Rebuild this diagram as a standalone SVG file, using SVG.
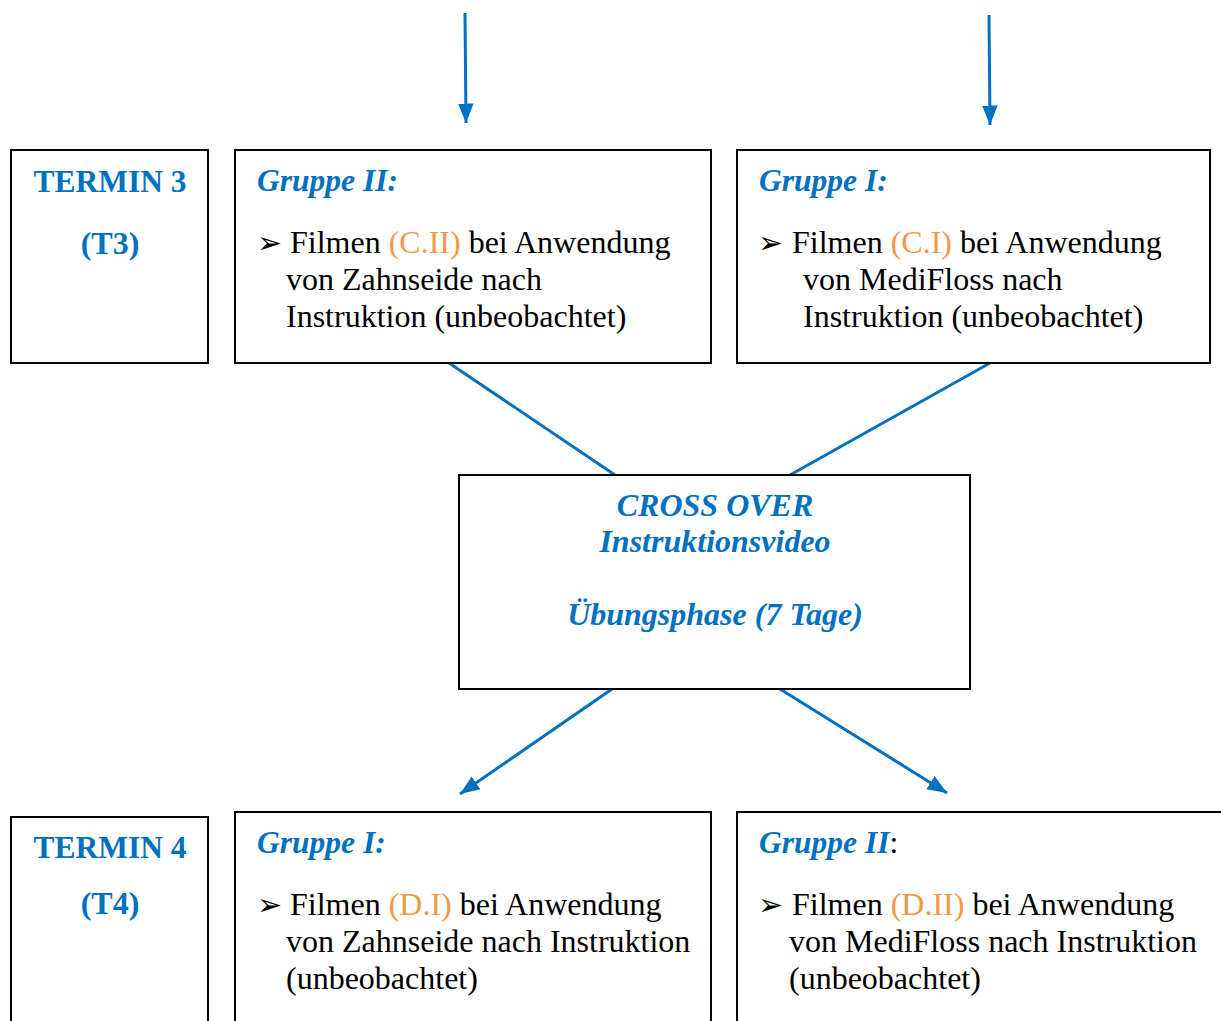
<svg xmlns="http://www.w3.org/2000/svg" width="1221" height="1021" viewBox="0 0 1221 1021">
<style>
.box{fill:#fff;stroke:#000;stroke-width:2}
.term{font-family:"Liberation Serif",serif;font-weight:bold;font-size:32px;fill:#0070C0;text-anchor:middle}
.grp{font-family:"Liberation Serif",serif;font-weight:bold;font-style:italic;font-size:31.5px;fill:#0070C0}
.body{font-family:"Liberation Serif",serif;font-size:32px;fill:#000}
.org{fill:#F79646}
.bul{font-family:"DejaVu Sans",sans-serif;font-size:30px;fill:#000}
.ctr{font-family:"Liberation Serif",serif;font-weight:bold;font-style:italic;font-size:32px;fill:#0070C0;text-anchor:middle}
.conn{stroke:#0070C0;stroke-width:3;fill:none}
</style>
<defs>
<marker id="ah" markerWidth="8" markerHeight="8" refX="6.5" refY="4" orient="auto" markerUnits="strokeWidth">
<path d="M0,1.4 L6.5,4 L0,6.6 z" fill="#0070C0"/>
</marker>
</defs>
<rect width="1221" height="1021" fill="#fff"/>
<g id="connectors">
<line class="conn" x1="465" y1="13" x2="466" y2="123" marker-end="url(#ah)"/>
<line class="conn" x1="989" y1="15" x2="990" y2="125" marker-end="url(#ah)"/>
<line class="conn" x1="449" y1="363" x2="615" y2="475"/>
<line class="conn" x1="990" y1="363" x2="790" y2="475"/>
<line class="conn" x1="612" y1="689" x2="460" y2="794" marker-end="url(#ah)"/>
<line class="conn" x1="780" y1="689" x2="947" y2="793" marker-end="url(#ah)"/>
</g>
<g id="termin3">
<rect class="box" x="11" y="150" width="197" height="213"/>
<text class="term" x="110" y="192" textLength="153" lengthAdjust="spacingAndGlyphs">TERMIN 3</text>
<text class="term" x="110" y="254">(T3)</text>
</g>
<g id="t3-gruppe2">
<rect class="box" x="235" y="150" width="476" height="213"/>
<text class="grp" x="257" y="191">Gruppe II:</text>
<text class="bul" x="257" y="253">➢</text>
<text class="body" x="290" y="253">Filmen <tspan class="org">(C.II)</tspan> bei Anwendung</text>
<text class="body" x="286" y="290">von Zahnseide nach</text>
<text class="body" x="286" y="327">Instruktion (unbeobachtet)</text>
</g>
<g id="t3-gruppe1">
<rect class="box" x="737" y="150" width="473" height="213"/>
<text class="grp" x="759" y="191">Gruppe I:</text>
<text class="bul" x="758" y="253">➢</text>
<text class="body" x="792" y="253">Filmen <tspan class="org">(C.I)</tspan> bei Anwendung</text>
<text class="body" x="803" y="290">von MediFloss nach</text>
<text class="body" x="803" y="327">Instruktion (unbeobachtet)</text>
</g>
<g id="crossover">
<rect class="box" x="459" y="475" width="511" height="214"/>
<text class="ctr" x="715" y="516">CROSS OVER</text>
<text class="ctr" x="715" y="552">Instruktionsvideo</text>
<text class="ctr" x="715" y="625">Übungsphase (7 Tage)</text>
</g>
<g id="termin4">
<rect class="box" x="11" y="817" width="197" height="220"/>
<text class="term" x="110" y="858" textLength="153" lengthAdjust="spacingAndGlyphs">TERMIN 4</text>
<text class="term" x="110" y="914">(T4)</text>
</g>
<g id="t4-gruppe1">
<rect class="box" x="235" y="812" width="476" height="225"/>
<text class="grp" x="257" y="853">Gruppe I:</text>
<text class="bul" x="257" y="915">➢</text>
<text class="body" x="290" y="915">Filmen <tspan class="org">(D.I)</tspan> bei Anwendung</text>
<text class="body" x="286" y="952">von Zahnseide nach Instruktion</text>
<text class="body" x="286" y="989">(unbeobachtet)</text>
</g>
<g id="t4-gruppe2">
<rect class="box" x="737" y="812" width="500" height="225"/>
<text class="grp" x="759" y="853">Gruppe II<tspan style="font-weight:normal;font-style:normal;fill:#000">:</tspan></text>
<text class="bul" x="758" y="915">➢</text>
<text class="body" x="792" y="915">Filmen <tspan class="org">(D.II)</tspan> bei Anwendung</text>
<text class="body" x="789" y="952">von MediFloss nach Instruktion</text>
<text class="body" x="789" y="989">(unbeobachtet)</text>
</g>
</svg>
